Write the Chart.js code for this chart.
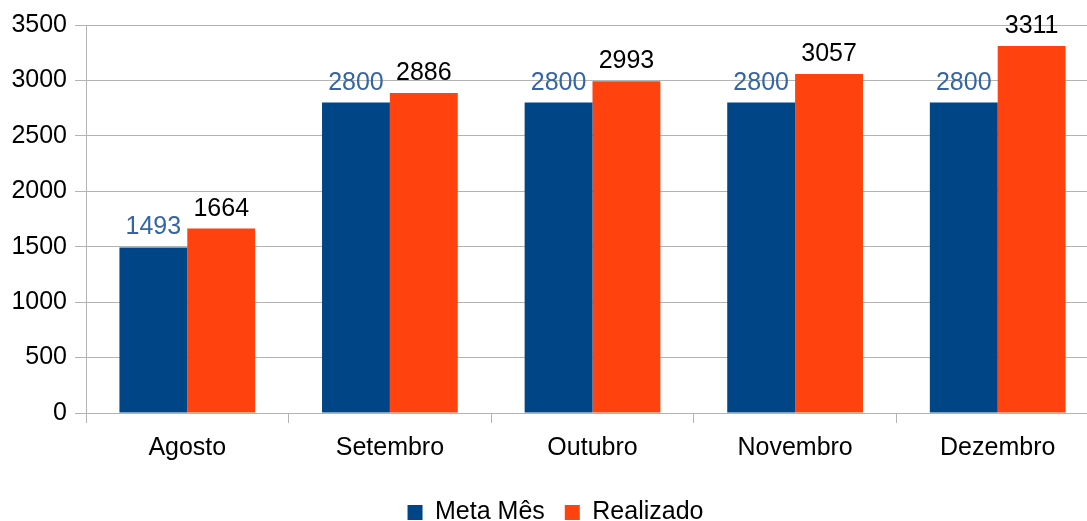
<!DOCTYPE html>
<html>
<head>
<meta charset="utf-8">
<script src="https://cdn.jsdelivr.net/npm/chart.js@4/dist/chart.umd.min.js"></script>
<style>
  html, body { margin: 0; padding: 0; background: #fff; overflow: hidden; }
  canvas { display: block; }
</style>
</head>
<body>
<canvas id="chart" width="1110" height="521"></canvas>
<script>
const months = ['Agosto', 'Setembro', 'Outubro', 'Novembro', 'Dezembro'];
const meta = [1493, 2800, 2800, 2800, 2800];
const realizado = [1664, 2886, 2993, 3057, 3311];
const yTicks = [0, 500, 1000, 1500, 2000, 2500, 3000, 3500];

const gridColor = '#b3b3b3';
const font = { family: '"Liberation Sans", Arial, sans-serif', size: 25 };

// simple value labels above each bar
const barLabels = {
    id: 'barLabels',
    afterDatasetsDraw(chart) {
        const ctx = chart.ctx;
        ctx.save();
        ctx.font = `${font.size}px ${font.family}`;
        ctx.textAlign = 'center';
        ctx.textBaseline = 'alphabetic';
        chart.data.datasets.forEach((ds, i) => {
            ctx.fillStyle = ds.labelColor;
            chart.getDatasetMeta(i).data.forEach((bar, j) => {
                ctx.fillText(String(ds.data[j]), bar.x, bar.y - 13);
            });
        });
        ctx.restore();
    }
};

new Chart(document.getElementById('chart'), {
    type: 'bar',
    data: {
        labels: months,
        datasets: [{
            label: 'Meta Mês',
            data: meta,
            backgroundColor: '#004586',
            labelColor: '#3465a4',
            categoryPercentage: 0.67,
            barPercentage: 1.0
        }, {
            label: 'Realizado',
            data: realizado,
            backgroundColor: '#ff420e',
            labelColor: '#000000',
            categoryPercentage: 0.67,
            barPercentage: 1.0
        }]
    },
    options: {
        responsive: false,
        animation: false,
        devicePixelRatio: 1,
        layout: { padding: { top: 25, left: 12, right: 11, bottom: -14 } },
        scales: {
            x: {
                grid: {
                    drawOnChartArea: false,
                    color: gridColor,
                    tickLength: 10
                },
                border: { color: gridColor },
                ticks: { color: '#000', font: font, padding: 10 },
                afterFit: (scale) => { scale.height = 67; }
            },
            y: {
                min: 0,
                max: 3500,
                afterBuildTicks: (scale) => { scale.ticks = yTicks.map(v => ({ value: v })); },
                grid: { color: gridColor, tickLength: 11 },
                border: { color: gridColor },
                ticks: { color: '#000', font: font, padding: 8, callback: (v) => String(v) },
                afterFit: (scale) => { scale.width = 74; scale.paddingTop = 0; }
            }
        },
        plugins: {
            legend: {
                position: 'bottom',
                labels: {
                    color: '#000',
                    font: font,
                    boxWidth: 15,
                    boxHeight: 15,
                    padding: 20
                }
            },
            tooltip: { enabled: false }
        }
    },
    plugins: [barLabels]
});
</script>
</body>
</html>
